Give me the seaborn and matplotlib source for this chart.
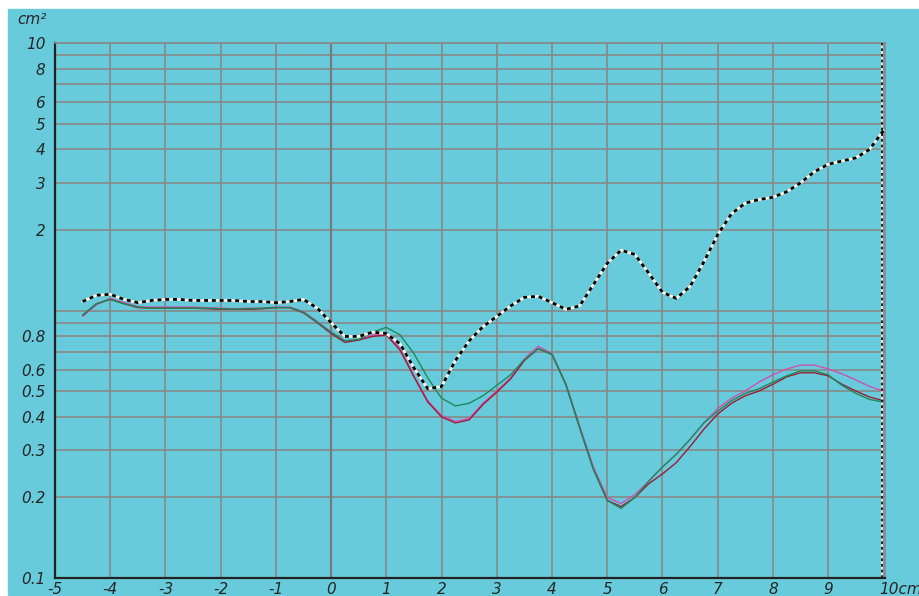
import numpy as np
import pandas as pd
import matplotlib
matplotlib.use("Agg")
import matplotlib.pyplot as plt
import seaborn as sns

# --- values (x in cm, y in cm^2, log scale)
x_cm = [-4.5, -4.25, -4.0, -3.75, -3.5, -3.25, -3.0, -2.75, -2.5, -2.25,
        -2.0, -1.75, -1.5, -1.25, -1.0, -0.75, -0.5, -0.25, 0.0, 0.25,
        0.5, 0.75, 1.0, 1.25, 1.5, 1.75, 2.0, 2.25, 2.5, 2.75,
        3.0, 3.25, 3.5, 3.75, 4.0, 4.25, 4.5, 4.75, 5.0, 5.25,
        5.5, 5.75, 6.0, 6.25, 6.5, 6.75, 7.0, 7.25, 7.5, 7.75,
        8.0, 8.25, 8.5, 8.75, 9.0, 9.25, 9.5, 9.75, 10.0]

dotted = [1.08, 1.14, 1.15, 1.10, 1.07, 1.09, 1.10, 1.10, 1.09, 1.09,
          1.09, 1.09, 1.08, 1.08, 1.07, 1.08, 1.10, 1.02, 0.90, 0.80,
          0.80, 0.83, 0.82, 0.75, 0.61, 0.51, 0.52, 0.65, 0.77, 0.87,
          0.95, 1.04, 1.12, 1.13, 1.07, 1.01, 1.04, 1.25, 1.50, 1.68,
          1.62, 1.38, 1.17, 1.11, 1.23, 1.52, 1.92, 2.30, 2.52, 2.60,
          2.65, 2.78, 3.00, 3.30, 3.52, 3.62, 3.72, 4.00, 4.70]

magenta = [0.95, 1.05, 1.11, 1.07, 1.035, 1.03, 1.03, 1.03, 1.03, 1.025,
           1.02, 1.015, 1.02, 1.02, 1.03, 1.03, 0.99, 0.91, 0.83, 0.77,
           0.78, 0.81, 0.82, 0.72, 0.57, 0.46, 0.405, 0.385, 0.395, 0.45,
           0.50, 0.56, 0.66, 0.735, 0.69, 0.53, 0.37, 0.26, 0.20, 0.19,
           0.205, 0.23, 0.26, 0.29, 0.33, 0.38, 0.43, 0.47, 0.50, 0.54,
           0.575, 0.605, 0.625, 0.625, 0.605, 0.58, 0.55, 0.52, 0.50]

red = [0.96, 1.06, 1.10, 1.06, 1.025, 1.02, 1.02, 1.02, 1.02, 1.015,
       1.01, 1.01, 1.01, 1.015, 1.025, 1.025, 0.98, 0.90, 0.82, 0.76,
       0.775, 0.80, 0.81, 0.71, 0.565, 0.455, 0.40, 0.38, 0.39, 0.445,
       0.495, 0.555, 0.65, 0.72, 0.685, 0.53, 0.365, 0.255, 0.195, 0.185,
       0.20, 0.225, 0.245, 0.27, 0.31, 0.36, 0.41, 0.45, 0.48, 0.50,
       0.53, 0.565, 0.585, 0.585, 0.57, 0.53, 0.50, 0.475, 0.46]

green = [0.96, 1.06, 1.10, 1.06, 1.03, 1.02, 1.02, 1.02, 1.02, 1.02,
         1.015, 1.01, 1.015, 1.02, 1.025, 1.025, 0.985, 0.905, 0.83, 0.77,
         0.78, 0.83, 0.865, 0.81, 0.69, 0.56, 0.47, 0.44, 0.45, 0.48,
         0.525, 0.575, 0.655, 0.72, 0.685, 0.53, 0.365, 0.255, 0.195, 0.182,
         0.20, 0.23, 0.26, 0.29, 0.33, 0.38, 0.42, 0.46, 0.49, 0.51,
         0.54, 0.57, 0.595, 0.595, 0.575, 0.525, 0.49, 0.465, 0.455]

y_ticks = [0.1, 0.2, 0.3, 0.4, 0.5, 0.6, 0.7, 0.8, 0.9, 1,
           2, 3, 4, 5, 6, 7, 8, 9, 10]
y_labels = ["0.1", "0.2", "0.3", "0.4", "0.5", "0.6", "", "0.8", "", "",
            "2", "3", "4", "5", "6", "", "8", "", "10"]
x_ticks = list(range(-5, 11))
x_labels = [str(v) for v in range(-5, 10)] + [""]

BG = "#68cbdb"
GRID = "#888888"

sns.set_style("whitegrid", {"axes.facecolor": BG, "grid.color": GRID})
plt.rcParams["font.family"] = ["DejaVu Sans"]

fig = plt.figure(figsize=(9.2, 5.96), dpi=100)
fig.patch.set_facecolor("white")
# cyan panel with a thin white margin on the top and left
fig.patches.append(plt.Rectangle((8 / 920, 1 / 596), 1, 586 / 596,
                                 transform=fig.transFigure, color=BG, zorder=-5))
ax = fig.add_axes([55 / 920, 18 / 596, 830 / 920, 535 / 596])
ax.set_zorder(2)

long = pd.DataFrame({
    "x": x_cm * 3,
    "y": magenta + red + green,
    "s": ["m"] * len(x_cm) + ["r"] * len(x_cm) + ["g"] * len(x_cm),
})
sns.lineplot(data=long, x="x", y="y", hue="s",
             palette={"m": "#d050b4", "r": "#a01a38", "g": "#1a8c5a"},
             linewidth=1.0, legend=False, ax=ax, zorder=3)

# dotted black-on-white curve
sns.lineplot(x=x_cm, y=dotted, color="#f4f1e6", linewidth=2.0, ax=ax, zorder=4)
sns.lineplot(x=x_cm, y=dotted, color="black", linewidth=2.0,
             linestyle=(0, (1.4, 1.4)), ax=ax, zorder=5)
ax.axvline(9.97, color="#f4f1e6", linewidth=1.2, zorder=4)
ax.axvline(9.97, color="black", linewidth=1.2, linestyle=(0, (1.6, 1.8)), zorder=5)
ax.axvline(0, color="#7a7a7a", linewidth=1.6, zorder=1)

ax.set_yscale("log")
ax.set_xlim(-5, 10.03)
ax.set_ylim(0.1, 10)
ax.set_yticks(y_ticks, labels=y_labels)
ax.set_xticks(x_ticks, labels=x_labels)
ax.minorticks_off()
ax.grid(True, color=GRID, linewidth=1.2)
ax.tick_params(length=0, labelsize=11, pad=7)
for lab in ax.get_xticklabels() + ax.get_yticklabels():
    lab.set_fontstyle("italic")
ax.tick_params(axis="x", pad=3)
ax.set_xlabel("")
ax.set_ylabel("")

for side in ["left", "bottom"]:
    ax.spines[side].set_color("#222222")
    ax.spines[side].set_linewidth(1.6)
for side in ["top", "right"]:
    ax.spines[side].set_color(GRID)
    ax.spines[side].set_linewidth(1.2)

fig.text(17 / 920, 1 - 20 / 596, "cm²", fontsize=11, fontstyle="italic",
         va="center", ha="left")
fig.text(879 / 920, 1 - 590 / 596, "10cm", fontsize=11, fontstyle="italic",
         va="center", ha="left")

fig.savefig("out.png", dpi=100, facecolor=fig.get_facecolor())
